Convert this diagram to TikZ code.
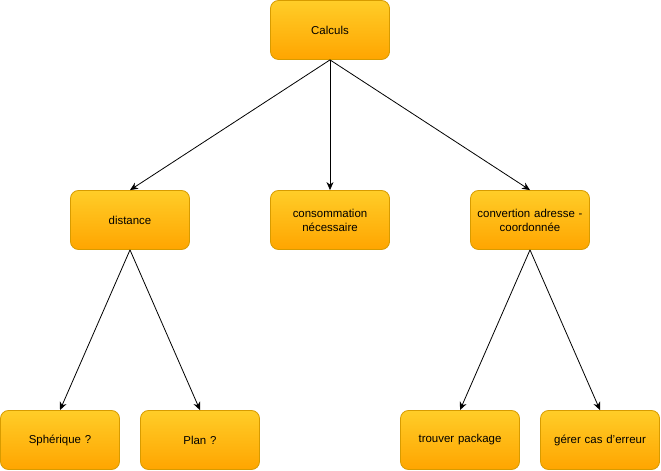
\documentclass[tikz,border=0pt]{standalone}
\usepackage{fontspec}
\setmainfont{Liberation Sans}
\usetikzlibrary{arrows.meta}
\definecolor{boxtop}{HTML}{FFCD28}
\definecolor{boxbot}{HTML}{FFA500}
\definecolor{boxline}{HTML}{D79B00}
\tikzset{
  box/.style={draw=boxline, line width=0.8bp, rounded corners=8bp, top color=boxtop, bottom color=boxbot,
    minimum width=119bp, minimum height=59bp, inner sep=2bp, align=center,
    font=\fontsize{11.5}{14}\selectfont, text width=114bp},
  conn/.style={draw=black, line width=0.8bp, -{Stealth[length=8bp,width=7bp,inset=2.5bp]}}
}
\begin{document}
\begin{tikzpicture}[x=1bp,y=-1bp]
\useasboundingbox (0,0) rectangle (661,471);
\node[box] (calc) at (330,30) {Calculs};
\node[box] (dist) at (130,220) {distance};
\node[box] (cons) at (330,220) {consommation\\nécessaire};
\node[box] (conv) at (530,220) {convertion adresse -\\coordonnée};
\node[box] (sph) at (60,440) {Sphérique ?};
\node[box] (plan) at (200,440) {Plan ?};
\node[box] (pkg) at (460,440) {trouver package};
\node[box] (err) at (600,440) {gérer cas d'erreur};
\draw[conn] (calc.south) -- (dist.north);
\draw[conn] (calc.south) -- (cons.north);
\draw[conn] (calc.south) -- (conv.north);
\draw[conn] (dist.south) -- (sph.north);
\draw[conn] (dist.south) -- (plan.north);
\draw[conn] (conv.south) -- (pkg.north);
\draw[conn] (conv.south) -- (err.north);
\end{tikzpicture}
\end{document}
